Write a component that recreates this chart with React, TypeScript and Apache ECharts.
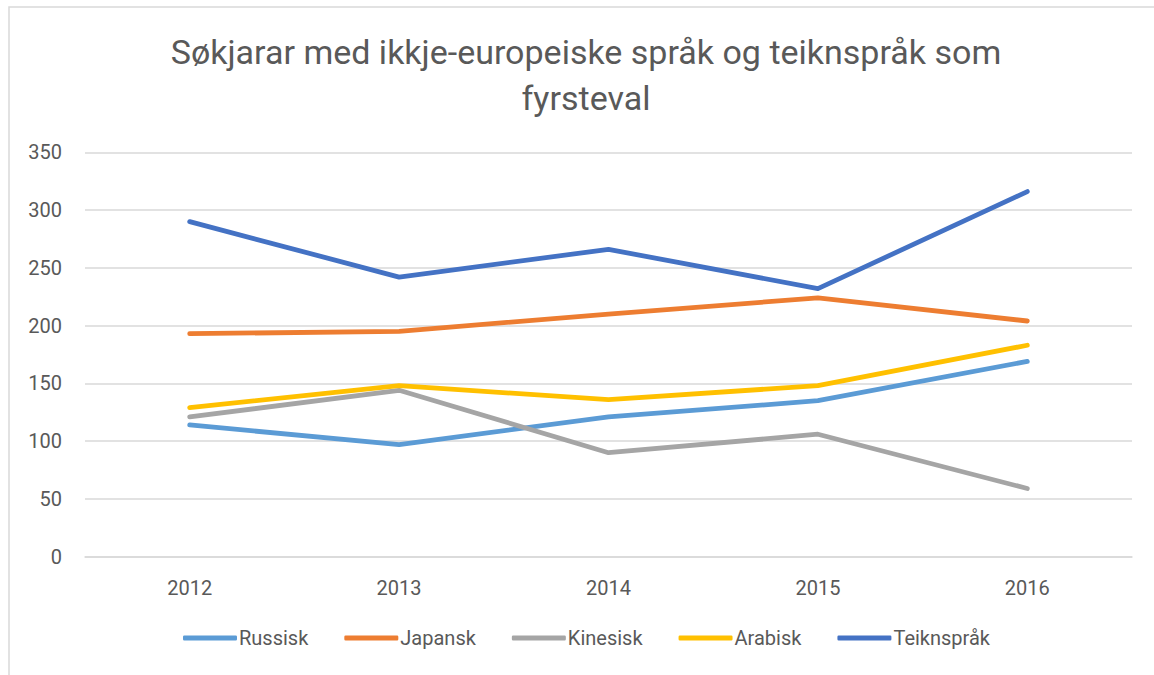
import React, { useEffect, useRef } from "react";
import * as echarts from "echarts";

const years = ["2012", "2013", "2014", "2015", "2016"];
const russisk = [114, 97, 121, 135, 169];
const japansk = [193, 195, 210, 224, 204];
const kinesisk = [121, 144, 90, 106, 59];
const arabisk = [129, 148, 136, 148, 183];
const teiknsprak = [290, 242, 266, 232, 316];

const seriesDefs = [
  { name: "Russisk", data: russisk, color: "#5B9BD5" },
  { name: "Japansk", data: japansk, color: "#ED7D31" },
  { name: "Kinesisk", data: kinesisk, color: "#A5A5A5" },
  { name: "Arabisk", data: arabisk, color: "#FFC000" },
  { name: "Teiknspråk", data: teiknsprak, color: "#4472C4" },
];

const FONT = "Roboto, 'Liberation Sans', sans-serif";

export default function App() {
  const ref = useRef<HTMLDivElement>(null);
  useEffect(() => {
    if (!ref.current) return;
    const chart = echarts.init(ref.current, null, { renderer: "svg" });
    chart.setOption({
      animation: false,
      backgroundColor: "#ffffff",
      title: {
        text: "Søkjarar med ikkje-europeiske språk og teiknspråk som\nfyrsteval",
        left: 581,
        textAlign: "center",
        top: 24,
        textStyle: {
          fontFamily: FONT,
          fontSize: 34,
          fontWeight: "normal",
          color: "#595959",
          lineHeight: 46,
        },
      },
      graphic: [
        {
          type: "rect",
          shape: { x: 9, y: 7, width: 1300, height: 800 },
          style: { fill: "none", stroke: "#d9d9d9", lineWidth: 1.5 },
          silent: true,
        },
      ],
      legend: {
        bottom: 22,
        left: 178,
        itemWidth: 54,
        itemHeight: 5,
        itemGap: 36,
        icon: "roundRect",
        textStyle: { fontFamily: FONT, fontSize: 20, color: "#595959", padding: [0, 0, 0, -3] },
        data: seriesDefs.map((s) => s.name),
      },
      grid: { left: 85, right: 22, top: 152.3, bottom: 118.3, containLabel: false },
      xAxis: {
        type: "category",
        data: years,
        boundaryGap: true,
        axisLine: { show: true, lineStyle: { color: "#d9d9d9", width: 1.5 } },
        axisTick: { show: false },
        axisLabel: { margin: 21, fontFamily: FONT, fontSize: 20, color: "#595959" },
      },
      yAxis: {
        type: "value",
        min: 0,
        max: 350,
        interval: 50,
        axisLine: { show: false },
        axisTick: { show: false },
        splitLine: { lineStyle: { color: "#d9d9d9", width: 1.5 } },
        axisLabel: { margin: 23, fontFamily: FONT, fontSize: 20, color: "#595959" },
      },
      series: seriesDefs.map((s) => ({
        name: s.name,
        type: "line",
        data: s.data,
        symbol: "none",
        color: s.color,
        lineStyle: { width: 4.8, color: s.color, cap: "round", join: "round" },
        itemStyle: { color: s.color },
      })),
    });
    return () => chart.dispose();
  }, []);
  return (
    <div
      ref={ref}
      style={{ position: "fixed", left: 0, top: 0, width: 1154, height: 675 }}
    />
  );
}
